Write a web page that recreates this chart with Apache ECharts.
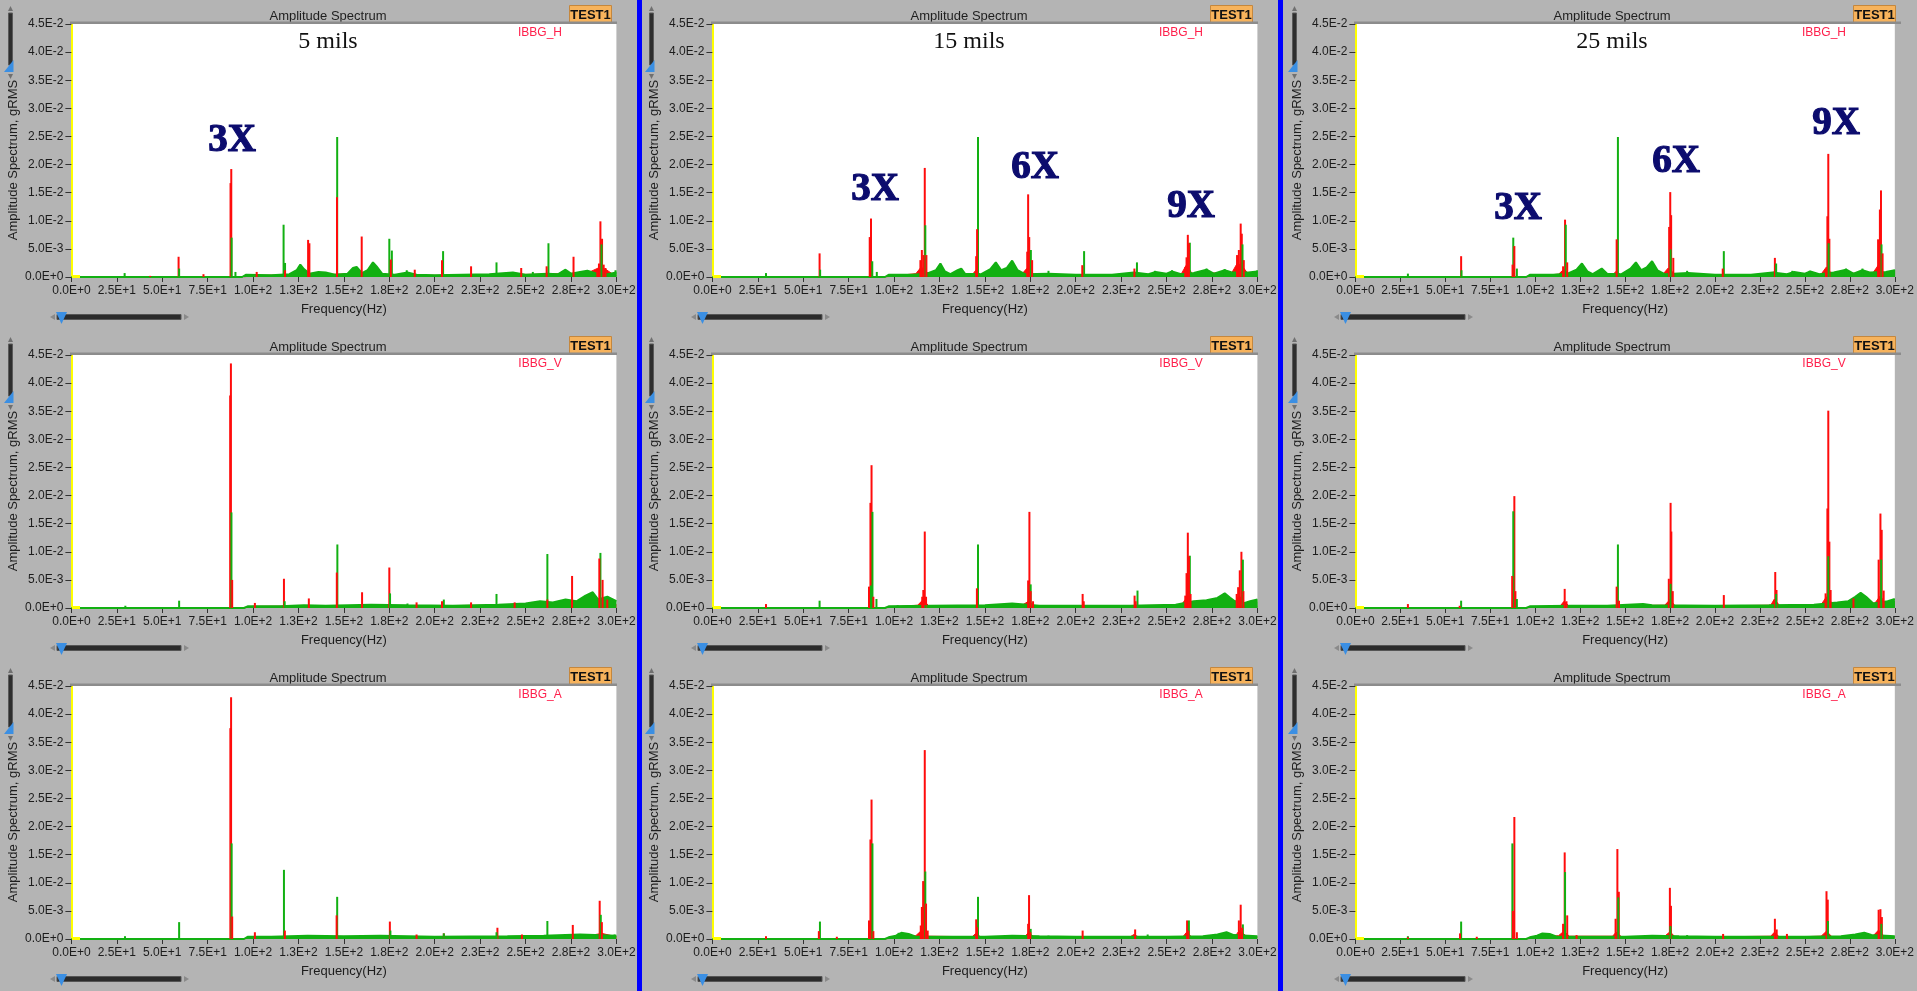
<!DOCTYPE html>
<html>
<head>
<meta charset="utf-8">
<script src="https://cdn.jsdelivr.net/npm/echarts@6/dist/echarts.min.js"></script>
<style>
  html, body { margin: 0; padding: 0; background: #b4b4b4; }
  #chart { width: 1917px; height: 991px; }
</style>
</head>
<body>
<div id="chart"></div>
<script>
// ---- tick labels ----
const xTickLabels = ['0.0E+0','2.5E+1','5.0E+1','7.5E+1','1.0E+2','1.3E+2','1.5E+2','1.8E+2','2.0E+2','2.3E+2','2.5E+2','2.8E+2','3.0E+2'];
const yTickLabels = ['0.0E+0','5.0E-3','1.0E-2','1.5E-2','2.0E-2','2.5E-2','3.0E-2','3.5E-2','4.0E-2','4.5E-2'];

// ---- row / column captions ----
const channels = ['IBBG_H', 'IBBG_V', 'IBBG_A'];
const runoutCases = ['5 mils', '15 mils', '25 mils'];

// ---- spectra: [frequency Hz, amplitude gRMS] ----
// IBBG_H, 5 mils
const h5Red = [[43.4,0.0002],[59,0.0036],[72.7,0.0005],[87.6,0.0167],[88,0.0192],[102,0.0009],[117.6,0.0012],[130.3,0.0066],[131,0.006],[146.2,0.0142],[159.8,0.0072],[175.8,0.0031],[189,0.0013],[204,0.003],[220,0.0019],[247.6,0.0016],[261.6,0.0019],[276.4,0.0036],[289.5,0.0014],[290.4,0.0024],[291.2,0.0099],[292.1,0.0068],[293,0.0022],[294,0.0016]];
const h5Green = [[29.3,0.0007],[59.3,0.0015],[88.2,0.007],[90.3,0.0009],[116.8,0.0093],[117.6,0.0025],[146.3,0.0249],[175,0.0068],[176.4,0.0047],[184.6,0.0012],[204.6,0.0046],[234,0.0026],[254,0.0009],[262.6,0.006],[291.8,0.0058],[299.5,0.0012]];
const h5RedFloor = [[95,0],[100,0.0003],[130,0.0004],[160,0.0006],[175,0.0004],[200,0.0003],[260,0.0005],[280,0.0007],[286,0.001],[290,0.0016],[294,0.0014],[298,0.0005],[300,0.0003]];
const h5GreenFloor = [[0,0],[94,0],[96,0.0004],[110,0.0003],[120,0.0005],[124,0.0012],[126,0.0022],[128,0.0014],[131,0.0006],[136,0.0009],[140,0.0008],[145,0.0004],[152,0.0006],[155,0.0016],[157,0.0018],[160,0.0007],[163,0.0012],[166,0.0026],[168,0.0019],[171,0.0006],[178,0.0004],[185,0.0008],[190,0.0004],[200,0.0003],[215,0.0004],[230,0.0005],[243,0.0008],[250,0.0004],[262,0.0006],[268,0.0005],[272,0.0013],[275,0.0006],[280,0.0009],[284,0.0011],[288,0.0007],[295,0.0005],[300,0.0008]];

// IBBG_H, 15 mils
const h15Red = [[59,0.0042],[86.6,0.0071],[87.3,0.0104],[114.5,0.003],[115.3,0.0048],[116.2,0.0039],[116.9,0.0194],[117.8,0.0039],[145.2,0.0037],[145.7,0.0085],[173.3,0.0045],[173.8,0.0147],[174.4,0.0071],[176,0.003],[203.6,0.0021],[232.3,0.0015],[260.3,0.0018],[261,0.0035],[261.7,0.0075],[262.3,0.006],[288.8,0.0039],[289.8,0.0048],[290.8,0.0095],[291.4,0.0077],[292.5,0.003]];
const h15Green = [[29.5,0.0007],[59.3,0.0013],[88,0.0028],[90.5,0.0009],[117.2,0.0092],[146.2,0.0249],[175.3,0.0048],[185,0.0011],[204.6,0.0046],[233.7,0.0026],[243.6,0.0011],[253,0.0012],[262.8,0.0061],[272,0.0015],[282,0.0014],[291.8,0.0058],[300,0.0012]];
const h15RedFloor = [[95,0],[100,0.0002],[112,0.0006],[115,0.0018],[118,0.0008],[125,0.0003],[143,0.0004],[145,0.0012],[148,0.0003],[170,0.0004],[173,0.0015],[177,0.0004],[200,0.0003],[258,0.0005],[261,0.0022],[264,0.0006],[286,0.0008],[289,0.0025],[292,0.0018],[295,0.0005],[300,0.0003]];
const h15GreenFloor = [[0,0],[95,0],[97,0.0004],[110,0.0004],[118,0.0006],[123,0.0012],[125.5,0.0024],[128,0.001],[131,0.0005],[135,0.0012],[137,0.0015],[139,0.0006],[148,0.0005],[153,0.0014],[156,0.0026],[159,0.0012],[162,0.0016],[165,0.0029],[168,0.0012],[172,0.0005],[185,0.0006],[200,0.0004],[220,0.0004],[232,0.0008],[240,0.0005],[244,0.0009],[250,0.0006],[253,0.001],[258,0.0005],[265,0.0007],[272,0.0013],[276,0.0006],[282,0.0012],[286,0.0008],[295,0.0008],[300,0.001]];

// IBBG_H, 25 mils
const h25Red = [[58.8,0.0037],[87.4,0.0022],[88.4,0.0055],[115.5,0.0019],[116.6,0.0102],[117.8,0.0026],[145.3,0.0067],[174.5,0.0089],[175.1,0.0151],[175.6,0.011],[176.8,0.0034],[204.3,0.0015],[233.3,0.0034],[261.7,0.0012],[262.5,0.0108],[263,0.0219],[263.6,0.0068],[290.7,0.0067],[291.7,0.012],[292.3,0.0154],[293.2,0.0042]];
const h25Green = [[29.2,0.0006],[59,0.0012],[87.8,0.007],[89.8,0.0015],[117,0.0093],[146,0.0249],[175.3,0.0049],[184.5,0.0011],[204.9,0.0046],[234,0.0024],[243,0.0011],[252.6,0.0011],[263.2,0.006],[272.8,0.0015],[282,0.0015],[292.6,0.0058],[300,0.0013]];
const h25RedFloor = [[95,0],[100,0.0002],[113,0.0005],[116,0.0014],[119,0.0004],[143,0.0004],[145,0.001],[148,0.0003],[171,0.0005],[174,0.0016],[178,0.0004],[200,0.0003],[231,0.0005],[233,0.001],[236,0.0003],[259,0.0005],[262,0.0018],[265,0.0005],[288,0.0008],[291,0.0022],[294,0.0006],[300,0.0003]];
const h25GreenFloor = [[0,0],[95,0],[97,0.0004],[110,0.0004],[118,0.0006],[123,0.0013],[126,0.0024],[129,0.001],[132,0.0005],[135,0.0011],[137,0.0015],[140,0.0006],[148,0.0005],[153,0.0015],[156,0.0026],[159,0.0012],[162,0.0017],[165,0.0028],[168,0.0012],[172,0.0005],[185,0.0007],[200,0.0004],[220,0.0004],[232,0.0008],[240,0.0005],[244,0.0009],[250,0.0006],[253,0.001],[258,0.0005],[266,0.0008],[273,0.0013],[277,0.0006],[282,0.0012],[286,0.0008],[295,0.0009],[300,0.0012]];

// IBBG_V, 5 mils
const v5Red = [[87.4,0.0378],[87.8,0.0435],[88.5,0.005],[101,0.0009],[117,0.0052],[130.7,0.0017],[146.1,0.0063],[160,0.0028],[175,0.0072],[190,0.001],[204,0.0012],[220,0.001],[244,0.001],[262,0.0015],[275.6,0.0057],[290.6,0.0088],[292.4,0.005],[295,0.0015]];
const v5Green = [[29.7,0.0004],[59.3,0.0013],[88.1,0.017],[117.4,0.0012],[146.4,0.0113],[175.4,0.0026],[185,0.0008],[205,0.0015],[234,0.0025],[262,0.0096],[291.2,0.0098],[299,0.0012]];
const v5RedFloor = [[95,0],[100,0.0003],[150,0.0004],[200,0.0004],[260,0.0006],[280,0.001],[290,0.0012],[300,0.0006]];
const v5GreenFloor = [[0,0],[95,0],[97,0.0003],[115,0.0003],[128,0.0005],[140,0.0004],[165,0.0006],[185,0.0005],[210,0.0004],[235,0.0006],[250,0.0008],[258,0.0012],[265,0.001],[272,0.0015],[278,0.0012],[283,0.0022],[287,0.0028],[290,0.0015],[295,0.002],[300,0.0012]];

// IBBG_V, 15 mils
const v15Red = [[29.5,0.0007],[86.2,0.0038],[87,0.0187],[87.6,0.0254],[88.6,0.002],[115.5,0.002],[116.1,0.0032],[116.9,0.0136],[117.6,0.002],[145.6,0.0035],[173.8,0.0049],[174.5,0.0171],[175.2,0.003],[176.5,0.0012],[203.8,0.0025],[204.4,0.0012],[232.4,0.0022],[233,0.0012],[260.3,0.0022],[261,0.0062],[261.7,0.0134],[262.3,0.0092],[263.2,0.0025],[288.6,0.0025],[289.4,0.0037],[290.3,0.0067],[291.2,0.01],[292.3,0.003]];
const v15Green = [[59,0.0013],[87.3,0.004],[88.1,0.0171],[90.3,0.0016],[102,0.0005],[117.3,0.0005],[146.2,0.0113],[164.9,0.0007],[175.2,0.0042],[234,0.0031],[262.8,0.0093],[292,0.0086],[299.5,0.0012]];
const v15RedFloor = [[95,0],[100,0.0002],[113,0.0005],[116,0.0015],[119,0.0004],[170,0.0004],[174,0.0012],[178,0.0003],[258,0.0005],[261,0.0018],[264,0.0006],[287,0.0008],[290,0.0022],[293,0.0006],[300,0.0003]];
const v15GreenFloor = [[0,0],[95,0],[97,0.0003],[120,0.0004],[150,0.0005],[165,0.0008],[180,0.0004],[230,0.0004],[255,0.0006],[265,0.0012],[272,0.0014],[278,0.0018],[282,0.0026],[285,0.0018],[290,0.0006],[296,0.0012],[300,0.0015]];

// IBBG_V, 25 mils
const v25Red = [[29.2,0.0007],[58,0.0004],[87.2,0.0057],[88.4,0.0199],[89,0.003],[116.4,0.0034],[117.4,0.0012],[145.3,0.0038],[146.6,0.0013],[174.3,0.0052],[175.3,0.0187],[175.7,0.0136],[176.5,0.003],[204.9,0.0023],[233.5,0.0064],[234.2,0.0032],[261.5,0.0026],[262.5,0.0177],[263,0.0351],[263.6,0.0118],[264.3,0.0032],[277,0.0017],[291,0.0086],[292,0.0168],[292.7,0.0139],[293.8,0.0031]];
const v25Green = [[58.8,0.0013],[87.8,0.0172],[89.8,0.0016],[146,0.0113],[175.3,0.0043],[234,0.0025],[263,0.0092],[292.4,0.0086],[299.5,0.0013]];
const v25RedFloor = [[95,0],[100,0.0002],[114,0.0004],[116,0.0012],[119,0.0003],[172,0.0005],[175,0.0015],[178,0.0003],[231,0.0005],[233,0.0016],[236,0.0004],[259,0.0006],[262,0.002],[266,0.0006],[289,0.0009],[292,0.0022],[295,0.0006],[300,0.0003]];
const v25GreenFloor = [[0,0],[95,0],[97,0.0003],[120,0.0004],[140,0.0004],[160,0.0007],[165,0.0005],[200,0.0004],[230,0.0005],[255,0.0006],[268,0.001],[274,0.0012],[278,0.002],[281,0.0027],[284,0.002],[288,0.0008],[296,0.0012],[300,0.0016]];

// IBBG_A, 5 mils
const a5Red = [[87.5,0.0375],[87.9,0.043],[88.5,0.004],[101,0.0012],[117.5,0.0015],[146,0.0042],[175.3,0.0031],[190,0.0008],[205,0.001],[234.5,0.002],[248,0.0008],[276,0.0025],[290.8,0.0068],[292,0.003]];
const a5Green = [[29.5,0.0005],[59.3,0.003],[88.2,0.017],[117,0.0123],[146.3,0.0075],[175.6,0.0015],[205,0.001],[234,0.0012],[262,0.0032],[291.4,0.0043],[299,0.0008]];
const a5RedFloor = [[95,0],[100,0.0003],[200,0.0003],[285,0.0006],[292,0.001],[300,0.0004]];
const a5GreenFloor = [[0,0],[95,0],[97,0.0004],[110,0.0004],[130,0.0006],[150,0.0005],[170,0.0006],[200,0.0004],[240,0.0005],[260,0.0006],[280,0.0008],[300,0.0006]];

// IBBG_A, 15 mils
const a15Red = [[29.5,0.0005],[58.6,0.0014],[68.5,0.0004],[86.2,0.0033],[87,0.0177],[87.6,0.0248],[88.6,0.0014],[114.7,0.0024],[115.3,0.0057],[116,0.0103],[116.9,0.0336],[117.6,0.0063],[118.5,0.0015],[145.2,0.0035],[145.7,0.0021],[173.8,0.0027],[174.3,0.0078],[175,0.0012],[203.8,0.0015],[232.7,0.0017],[261.3,0.0033],[262,0.0015],[289.8,0.0033],[290.8,0.0061],[291.6,0.002]];
const a15Green = [[59.2,0.0031],[88.1,0.017],[102.5,0.0011],[117.2,0.012],[146.2,0.0075],[175.2,0.0018],[185,0.0006],[239.6,0.0008],[262.3,0.0033],[292,0.0026]];
const a15RedFloor = [[95,0],[100,0.0002],[112,0.0006],[115,0.0015],[119,0.0005],[143,0.0004],[145,0.001],[148,0.0003],[172,0.0004],[174,0.0012],[177,0.0003],[230,0.0004],[232,0.0008],[235,0.0003],[259,0.0004],[261,0.0012],[264,0.0003],[288,0.0006],[290,0.0015],[294,0.0005],[300,0.0003]];
const a15GreenFloor = [[0,0],[95,0],[97,0.0003],[101,0.0006],[104,0.0011],[108,0.0009],[112,0.0004],[130,0.0004],[150,0.0004],[165,0.0006],[180,0.0005],[200,0.0004],[250,0.0004],[270,0.0005],[278,0.0008],[283,0.0012],[287,0.0007],[300,0.0005]];

// IBBG_A, 25 mils
const a25Red = [[29.2,0.0003],[58.2,0.001],[67.5,0.0004],[87.6,0.005],[88.4,0.0217],[89.8,0.0012],[115.5,0.0027],[116.4,0.0154],[117.8,0.0042],[123,0.0007],[144.7,0.0036],[145.7,0.016],[146.5,0.0084],[174.9,0.0091],[175.5,0.0059],[204.5,0.0009],[233.3,0.0036],[234.3,0.0017],[240,0.0009],[262,0.0085],[262.7,0.007],[291,0.0052],[292,0.0053],[292.8,0.0039]];
const a25Green = [[29.2,0.0005],[58.8,0.0031],[87.3,0.017],[116.6,0.0119],[146.2,0.0074],[175.2,0.0023],[184.5,0.0007],[262.8,0.0032],[292.5,0.0027]];
const a25RedFloor = [[95,0],[100,0.0002],[113,0.0006],[116,0.0014],[119,0.0005],[143,0.0005],[145,0.0012],[148,0.0004],[172,0.0005],[175,0.0013],[178,0.0003],[231,0.0005],[233,0.0012],[236,0.0003],[259,0.0005],[262,0.0014],[265,0.0004],[288,0.0006],[291,0.0016],[294,0.0005],[300,0.0003]];
const a25GreenFloor = [[0,0],[95,0],[97,0.0003],[101,0.0006],[104,0.001],[108,0.0009],[112,0.0004],[130,0.0004],[150,0.0004],[165,0.0006],[180,0.0005],[200,0.0004],[250,0.0004],[270,0.0005],[278,0.0008],[283,0.0011],[287,0.0007],[300,0.0005]];

// panels in reading order: rows = channel, columns = runout case
const panels = [
  { red: h5Red,  green: h5Green,  redFloor: h5RedFloor,  greenFloor: h5GreenFloor },
  { red: h15Red, green: h15Green, redFloor: h15RedFloor, greenFloor: h15GreenFloor },
  { red: h25Red, green: h25Green, redFloor: h25RedFloor, greenFloor: h25GreenFloor },
  { red: v5Red,  green: v5Green,  redFloor: v5RedFloor,  greenFloor: v5GreenFloor },
  { red: v15Red, green: v15Green, redFloor: v15RedFloor, greenFloor: v15GreenFloor },
  { red: v25Red, green: v25Green, redFloor: v25RedFloor, greenFloor: v25GreenFloor },
  { red: a5Red,  green: a5Green,  redFloor: a5RedFloor,  greenFloor: a5GreenFloor },
  { red: a15Red, green: a15Green, redFloor: a15RedFloor, greenFloor: a15GreenFloor },
  { red: a25Red, green: a25Green, redFloor: a25RedFloor, greenFloor: a25GreenFloor }
];

// harmonic call-outs on the top row (column, text, offset inside the panel)
const harmonicNotes = [
  { col: 0, text: '3X', x: 232, y: 141 },
  { col: 1, text: '3X', x: 234, y: 190 },
  { col: 1, text: '6X', x: 394, y: 168 },
  { col: 1, text: '9X', x: 550, y: 207 },
  { col: 2, text: '3X', x: 234, y: 209 },
  { col: 2, text: '6X', x: 392, y: 162 },
  { col: 2, text: '9X', x: 552, y: 124 }
];

// ---- layout ----
const COL_X = [0, 641, 1284];
const ROW_Y = [0, 331, 662];
const PLOT_L = 71.4, PLOT_T = 24, PLOT_W = 545, PLOT_H = 253;
const RED = '#ff0c0c', GREEN = '#12b012';
const UI_FONT = '"Liberation Sans", Arial, sans-serif';
const SERIF = '"Liberation Serif", "Times New Roman", serif';

const grid = [], xAxis = [], yAxis = [], series = [], graphic = [];

function txt(x, y, text, font, fill, extra) {
  return Object.assign({
    type: 'text', x: x, y: y, z: 100, silent: true,
    style: { text: text, font: font, fill: fill, textAlign: 'center', textVerticalAlign: 'middle' }
  }, extra || {});
}
function poly(points, fill) {
  return { type: 'polygon', z: 100, silent: true, shape: { points: points }, style: { fill: fill } };
}
function box(x, y, w, h, fill, stroke) {
  return { type: 'rect', z: 100, silent: true, shape: { x: x, y: y, width: w, height: h },
           style: { fill: fill, stroke: stroke || null, lineWidth: stroke ? 1 : 0 } };
}

panels.forEach(function (p, i) {
  const c = i % 3, r = Math.floor(i / 3);
  const ox = COL_X[c], oy = ROW_Y[r];

  grid.push({ left: ox + PLOT_L, top: oy + PLOT_T, width: PLOT_W, height: PLOT_H,
              show: true, backgroundColor: '#ffffff', borderWidth: 0 });

  xAxis.push({
    gridIndex: i, type: 'value', min: 0, max: 300, interval: 25,
    axisLine: { show: false },
    axisTick: { show: true, length: 5, lineStyle: { color: '#333' } },
    splitLine: { show: false },
    axisLabel: { margin: 8, fontSize: 12, color: '#1c1c1c', fontFamily: UI_FONT,
                 formatter: function (v) { return xTickLabels[Math.round(v / 25)]; } },
    name: 'Frequency(Hz)', nameLocation: 'middle', nameGap: 26,
    nameTextStyle: { fontSize: 13, color: '#1c1c1c', fontFamily: UI_FONT }
  });

  yAxis.push({
    gridIndex: i, type: 'value', min: 0, max: 0.045, interval: 0.005,
    axisLine: { show: true, lineStyle: { color: '#ffff00', width: 2 } },
    axisTick: { show: true, length: 6, lineStyle: { color: '#333' } },
    splitLine: { show: false },
    axisLabel: { margin: 8, fontSize: 12, color: '#1c1c1c', fontFamily: UI_FONT,
                 formatter: function (v) { return yTickLabels[Math.round(v / 0.005)]; } }
  });

  // noise floor bands
  series.push({ type: 'line', xAxisIndex: i, yAxisIndex: i, data: p.redFloor, symbol: 'none',
                silent: true, z: 2, lineStyle: { color: RED, width: 1 }, areaStyle: { color: RED, opacity: 1 } });
  series.push({ type: 'line', xAxisIndex: i, yAxisIndex: i, data: p.greenFloor, symbol: 'none',
                silent: true, z: 3, lineStyle: { color: GREEN, width: 2 }, areaStyle: { color: GREEN, opacity: 1 } });

  // discrete spectral lines of both traces, tallest first so shorter lines stay visible on top
  const lines = p.red.map(function (d) { return { value: d, itemStyle: { color: RED } }; })
    .concat(p.green.map(function (d) { return { value: d, itemStyle: { color: GREEN } }; }))
    .sort(function (a, b) { return b.value[1] - a.value[1]; });
  series.push({ type: 'bar', xAxisIndex: i, yAxisIndex: i, data: lines, barWidth: 2,
                silent: true, z: 4 });

  // panel furniture
  graphic.push(txt(ox + 328, oy + 16, 'Amplitude Spectrum', '13px ' + UI_FONT, '#1e1e1e'));
  graphic.push(box(ox + 569.5, oy + 5.5, 42, 18, '#f7b35c', '#c4873e'));
  graphic.push(txt(ox + 590.5, oy + 15, 'TEST1', 'bold 13px ' + UI_FONT, '#111'));
  graphic.push(box(ox + 70, oy + 21.5, 547, 2.5, '#8c8c8c'));
  graphic.push(txt(ox + 540, oy + 33, channels[r], '12px ' + UI_FONT, '#ff1f4b'));
  graphic.push(box(ox + 72, oy + 275, 8, 3, '#ffff00'));

  // vertical range slider
  graphic.push(poly([[ox + 8, oy + 11], [ox + 13, oy + 11], [ox + 10.5, oy + 6]], '#707070'));
  graphic.push(box(ox + 8.5, oy + 13, 4, 52, '#2e2e2e', '#5a5a5a'));
  graphic.push(poly([[ox + 13.5, oy + 60], [ox + 13.5, oy + 72], [ox + 4, oy + 72]], '#3b8fe3'));
  graphic.push(poly([[ox + 8, oy + 74], [ox + 13, oy + 74], [ox + 10.5, oy + 79]], '#707070'));
  graphic.push(txt(ox + 13, oy + 160, 'Amplitude Spectrum, gRMS', '13px ' + UI_FONT, '#1e1e1e',
                   { rotation: Math.PI / 2 }));

  // horizontal range slider
  graphic.push(poly([[ox + 55, oy + 314], [ox + 55, oy + 320], [ox + 50, oy + 317]], '#8a8a8a'));
  graphic.push(box(ox + 57, oy + 314.5, 124, 5, '#2b2b2b', '#555'));
  graphic.push(poly([[ox + 56, oy + 312], [ox + 67, oy + 312], [ox + 61.5, oy + 324]], '#3b8fe3'));
  graphic.push(poly([[ox + 184, oy + 314], [ox + 184, oy + 320], [ox + 189, oy + 317]], '#8a8a8a'));

  if (r === 0) {
    graphic.push(txt(ox + 328, oy + 42, runoutCases[c], '24px ' + SERIF, '#111'));
  }
});

harmonicNotes.forEach(function (h) {
  const el = txt(COL_X[h.col] + h.x, ROW_Y[0] + h.y, h.text, 'bold 39px ' + SERIF, '#0c0c6e');
  el.style.stroke = '#0c0c6e';
  el.style.lineWidth = 1.2;
  graphic.push(el);
});

// blue separators between the three runout cases
graphic.push({ type: 'rect', z: 100, silent: true, shape: { x: 637, y: 0, width: 5, height: 991 }, style: { fill: '#0000ff' } });
graphic.push({ type: 'rect', z: 100, silent: true, shape: { x: 1278, y: 0, width: 5, height: 991 }, style: { fill: '#0000ff' } });

const chart = echarts.init(document.getElementById('chart'), null, { renderer: 'canvas' });
chart.setOption({
  backgroundColor: '#b4b4b4',
  animation: false,
  grid: grid,
  xAxis: xAxis,
  yAxis: yAxis,
  series: series,
  graphic: graphic
});
</script>
</body>
</html>
